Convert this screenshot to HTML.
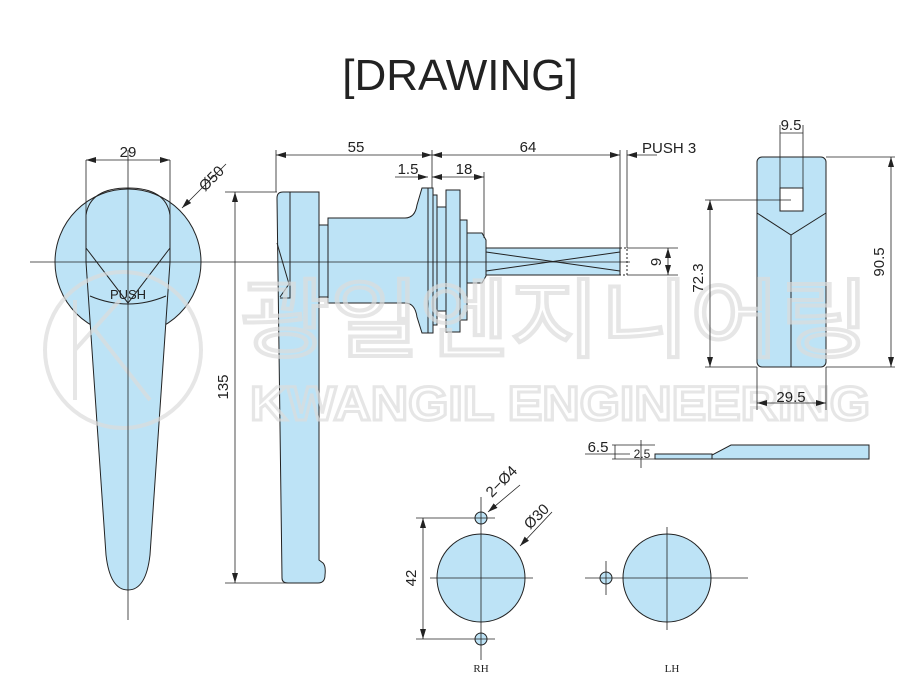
<!DOCTYPE html>
<html><head><meta charset="utf-8"><style>
html,body{margin:0;padding:0;background:#fff;}
svg{display:block;font-family:"Liberation Sans",sans-serif;}
</style></head><body>
<svg width="921" height="700" viewBox="0 0 921 700" xmlns="http://www.w3.org/2000/svg">
<defs>
<marker id="a" viewBox="0 0 10 6" refX="10" refY="3" markerWidth="10" markerHeight="6" orient="auto-start-reverse" markerUnits="userSpaceOnUse"><path d="M0,0L10,3L0,6z" fill="#222"/></marker>
</defs>
<text x="460" y="90" text-anchor="middle" font-size="44" fill="#222">[DRAWING]</text>

<g stroke="#222" stroke-width="1" fill="#bde3f6">
<!-- front view -->
<circle cx="128" cy="262" r="73"/>
<path d="M86,262 L106,555 Q110,590 128,590 Q146,590 150,555 L170,262 Z"/>
<path d="M86,262 L86,215 Q90,188 128,188 Q166,188 170,215 L170,262" fill="none"/>
<path d="M86,248 L128,303 L170,248" fill="none"/>
<path d="M90,296 Q128,312 166,296" fill="none"/>
<text x="128" y="299" font-size="13" text-anchor="middle" fill="#222" stroke="none">PUSH</text>

<!-- side view -->
<path d="M277,198 Q277,192 283,192 L319,192 L319,560 L323,563 Q326,566 325,575 Q325,583 318,583 L288,583 Q282,583 282,578 Z"/>
<path d="M290,192 L290,298 L280,298" fill="none"/>
<path d="M277,243 L289,284 L280,297" fill="none"/>
<rect x="319" y="225" width="10" height="72"/>
<path d="M328,218 L405,218 Q415,218 417,205 L422,188 L428,188 L428,333 L422,333 L417,317 Q415,303 405,303 L328,303 Z"/>
<rect x="428" y="188" width="5" height="145"/>
<rect x="433" y="195" width="4" height="130"/>
<rect x="437" y="207" width="9" height="104"/>
<rect x="446" y="190" width="14" height="142"/>
<rect x="460" y="220" width="7" height="100"/>
<path d="M467,233 L482,233 L486,240 L486,276 L482,283 L467,283 Z"/>
<rect x="486" y="248" width="134" height="27"/>
<path d="M486,252 L620,271 M486,271 L620,252" fill="none"/>
<path d="M620,248 L627,248 L627,275 L620,275" fill="none" stroke-dasharray="2,2"/>

<!-- right view -->
<rect x="757" y="157" width="69" height="210" rx="5"/>
<rect x="780" y="188" width="23" height="23" fill="#fff"/>
<path d="M757,213 L791,235 L826,213 M791,235 L791,367" fill="none"/>

<!-- bottom profile -->
<path d="M731,445 L869,445 L869,459 L712,459 L712,455 Z"/>
<rect x="655" y="454" width="57" height="5"/>

<!-- circles -->
<circle cx="481" cy="578" r="44"/>
<circle cx="481" cy="518" r="6"/>
<circle cx="481" cy="639" r="6"/>
<circle cx="667" cy="578" r="44"/>
<circle cx="606" cy="578" r="6"/>
</g>

<!-- watermark -->
<g fill="none" stroke="#dcdcdc" stroke-width="4" opacity="0.7">
<circle cx="123" cy="350" r="78"/>
<path d="M75,300 L75,400 M75,350 L120,300 M95,330 L150,400"/>
</g>
<text x="555" y="350" text-anchor="middle" font-size="86" fill="none" stroke="#dcdcdc" stroke-width="4" opacity="0.7" font-family="Noto Sans CJK KR, sans-serif" textLength="630" lengthAdjust="spacingAndGlyphs">광일엔지니어링</text>
<text x="560" y="420" text-anchor="middle" font-size="48" font-weight="bold" fill="none" stroke="#dcdcdc" stroke-width="3" opacity="0.7" textLength="620" lengthAdjust="spacingAndGlyphs">KWANGIL ENGINEERING</text>

<g stroke="#222" stroke-width="0.8" fill="none">
<path d="M128,150 V620 M30,262 H630"/>
<path d="M481,497 V660 M430,578 H533 M667,527 V630 M585,578 H748 M606,561 V595"/>
<path d="M86,160 V262 M170,160 V262"/>
<path d="M86,160 H170" marker-start="url(#a)" marker-end="url(#a)"/>
<path d="M226,164 L182,208" marker-end="url(#a)"/>
<path d="M276,150 V192 M432,150 V188 M620,150 V248 M627,150 V248"/>
<path d="M276,155 H432" marker-start="url(#a)" marker-end="url(#a)"/>
<path d="M432,155 H620" marker-start="url(#a)" marker-end="url(#a)"/>
<path d="M657,155 H627" marker-end="url(#a)"/>
<path d="M395,177 H428" marker-end="url(#a)"/>
<path d="M432,177 H484" marker-start="url(#a)" marker-end="url(#a)"/>
<path d="M484,172 V238"/>
<path d="M225,192 H277 M225,583 H318"/>
<path d="M235,192 V583" marker-start="url(#a)" marker-end="url(#a)"/>
<path d="M627,248 H678 M627,275 H678"/>
<path d="M668,248 V275" marker-start="url(#a)" marker-end="url(#a)"/>
<path d="M780,125 V188 M803,125 V188 M826,157 H895 M826,367 H895 M705,200 H791 M705,367 H757 M757,367 V410 M826,367 V410"/>
<path d="M780,133 H803"/>
<path d="M891,157 V367" marker-start="url(#a)" marker-end="url(#a)"/>
<path d="M710,200 V367" marker-start="url(#a)" marker-end="url(#a)"/>
<path d="M757,403 H826" marker-start="url(#a)" marker-end="url(#a)"/>
<path d="M585,454 H630 M612,445 H655 M612,459 H655 M615,445 V459 M641,440 V468"/>
<path d="M416,518 H495 M416,639 H495"/>
<path d="M423,518 V639" marker-start="url(#a)" marker-end="url(#a)"/>
<path d="M520,485 L488,512" marker-end="url(#a)"/>
<path d="M552,512 L520,546" marker-end="url(#a)"/>
</g>

<g fill="#222" font-size="15">
<text x="128" y="157" text-anchor="middle">29</text>
<text x="215" y="182" text-anchor="middle" transform="rotate(-45 215 182)">Ø50</text>
<text x="356" y="152" text-anchor="middle">55</text>
<text x="528" y="152" text-anchor="middle">64</text>
<text x="642" y="153">PUSH 3</text>
<text x="408" y="174" text-anchor="middle">1.5</text>
<text x="464" y="174" text-anchor="middle">18</text>
<text x="228" y="387" text-anchor="middle" transform="rotate(-90 228 387)">135</text>
<text x="661" y="262" text-anchor="middle" transform="rotate(-90 661 262)">9</text>
<text x="791" y="130" text-anchor="middle">9.5</text>
<text x="884" y="262" text-anchor="middle" transform="rotate(-90 884 262)">90.5</text>
<text x="703" y="278" text-anchor="middle" transform="rotate(-90 703 278)">72.3</text>
<text x="791" y="402" text-anchor="middle">29.5</text>
<text x="598" y="452" text-anchor="middle">6.5</text>
<text x="642" y="458" font-size="12" text-anchor="middle">2.5</text>
<text x="505" y="485" text-anchor="middle" transform="rotate(-45 505 485)">2−Ø4</text>
<text x="540" y="520" text-anchor="middle" transform="rotate(-45 540 520)">Ø30</text>
<text x="416" y="578" text-anchor="middle" transform="rotate(-90 416 578)">42</text>
<text x="481" y="672" font-size="11" text-anchor="middle" font-family="Liberation Serif,serif">RH</text>
<text x="672" y="672" font-size="11" text-anchor="middle" font-family="Liberation Serif,serif">LH</text>
</g>
</svg>
</body></html>
